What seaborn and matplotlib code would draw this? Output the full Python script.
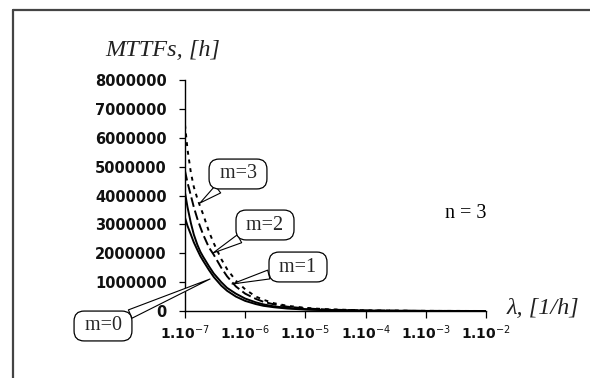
import numpy as np
import pandas as pd
import matplotlib
matplotlib.use("Agg")
import matplotlib.pyplot as plt
from matplotlib.lines import Line2D
import seaborn as sns

# ---- data ----
lam = [1e-7, 1.1e-7, 1.25e-7, 1.4e-7, 1.6e-7, 1.8e-7, 2e-7, 2.5e-7, 3e-7, 4e-7,
       5e-7, 7e-7, 1e-6, 1.5e-6, 2e-6, 3e-6, 5e-6, 1e-5, 2e-5, 1e-4, 1e-3, 1e-2]
mttf_m0 = [3.23, 2.95, 2.65, 2.38, 2.12, 1.90, 1.74, 1.42, 1.18, 0.88, 0.70, 0.50,
           0.35, 0.24, 0.18, 0.13, 0.085, 0.05, 0.03, 0.01, 0.002, 0.0003]
mttf_m1 = [4.10, 3.60, 3.05, 2.65, 2.30, 2.05, 1.88, 1.55, 1.30, 1.00, 0.80, 0.60,
           0.43, 0.30, 0.23, 0.16, 0.11, 0.065, 0.04, 0.012, 0.002, 0.0004]
mttf_m2 = [4.85, 4.45, 4.00, 3.60, 3.20, 2.90, 2.65, 2.20, 1.95, 1.50, 1.20, 0.85,
           0.60, 0.42, 0.32, 0.23, 0.15, 0.09, 0.055, 0.015, 0.003, 0.0005]
mttf_m3 = [6.45, 5.60, 4.80, 4.30, 3.90, 3.60, 3.35, 2.75, 2.35, 1.80, 1.45, 1.05,
           0.75, 0.50, 0.39, 0.27, 0.18, 0.11, 0.065, 0.02, 0.004, 0.0006]
series_names = ["m=0", "m=1", "m=2", "m=3"]
y_ticks = [0, 1000000, 2000000, 3000000, 4000000, 5000000, 6000000, 7000000, 8000000]
x_ticks = [1e-7, 1e-6, 1e-5, 1e-4, 1e-3, 1e-2]
x_ticklabels = ["1.10$^{-7}$", "1.10$^{-6}$", "1.10$^{-5}$", "1.10$^{-4}$",
                "1.10$^{-3}$", "1.10$^{-2}$"]

rows = []
for name, vals in zip(series_names, [mttf_m0, mttf_m1, mttf_m2, mttf_m3]):
    for l, v in zip(lam, vals):
        rows.append({"lam": l, "mttf": v * 1e6, "m": name})
df = pd.DataFrame(rows)

sns.set_theme(style="white")
plt.rcParams["font.family"] = ["DejaVu Sans"]

fig = plt.figure(figsize=(5.9, 3.78), dpi=100)
ax = fig.add_axes([185 / 590, 1 - 311 / 378, (486 - 185) / 590, (311 - 80) / 378])

dashes = {"m=0": "", "m=1": "", "m=2": (5, 2), "m=3": (2, 2.5)}
sns.lineplot(data=df, x="lam", y="mttf", hue="m", style="m",
             palette=["black"] * 4, dashes=dashes, linewidth=1.4,
             legend=False, ax=ax, sort=False)

ax.set_xscale("log")
ax.set_xlim(1e-7, 1e-2)
ax.set_ylim(0, 8000000)
ax.set_xticks(x_ticks)
ax.set_xticklabels(x_ticklabels)
ax.minorticks_off()
ax.set_yticks(y_ticks)
ax.set_yticklabels([str(v) for v in y_ticks])
ax.set_xlabel("")
ax.set_ylabel("")
for s in ["top", "right"]:
    ax.spines[s].set_visible(False)
for s in ["left", "bottom"]:
    ax.spines[s].set_color("black")
    ax.spines[s].set_linewidth(1.0)
ax.tick_params(axis="y", direction="out", length=4, width=0.9, color="black",
               pad=9, labelsize=10.5, left=True)
ax.tick_params(axis="x", direction="out", length=5, width=0.9, color="black",
               pad=4, labelsize=10, bottom=True)
for t in ax.get_yticklabels() + ax.get_xticklabels():
    t.set_fontweight("bold")
    t.set_color("#111111")
ax.patch.set_alpha(0)

serif = ["Liberation Serif", "DejaVu Serif"]
fig.text(163 / 590, 1 - 50 / 378, "MTTFs, [h]", family=serif, style="italic",
         fontsize=17.5, ha="center", va="center", color="#222222")
fig.text(543 / 590, 1 - 309 / 378, "λ, [1/h]", family=serif, style="italic",
         fontsize=17.5, ha="center", va="center", color="#222222")
fig.text(466 / 590, 1 - 213 / 378, "n = 3", family=serif,
         fontsize=14.5, ha="center", va="center", color="black")

# callouts
bbox = dict(boxstyle="round,pad=0.27,rounding_size=0.5", fc="white", ec="black", lw=0.9)
arrow = dict(arrowstyle="wedge,tail_width=0.45", fc="white", ec="black", lw=0.8,
             shrinkA=0, shrinkB=0)

callouts = [("m=3", (238, 174), (200, 203)),
            ("m=2", (265, 225), (213, 253)),
            ("m=1", (298, 267), (232, 284)),
            ("m=0", (103, 326), (210, 279))]
for label, (bx, by), (tx, ty) in callouts:
    ax.annotate(" " + label + " ", xy=(tx / 590, 1 - ty / 378), xycoords="figure fraction",
                xytext=(bx / 590, 1 - by / 378), textcoords="figure fraction",
                family=serif, fontsize=14.5, ha="center", va="center",
                bbox=bbox, arrowprops=arrow, annotation_clip=False)

# outer frame (left and top edges visible)
fig.add_artist(Line2D([13 / 590, 13 / 590], [0, 1 - 10 / 378],
                      transform=fig.transFigure, color="#444444", lw=1.6))
fig.add_artist(Line2D([13 / 590, 1], [1 - 10 / 378, 1 - 10 / 378],
                      transform=fig.transFigure, color="#444444", lw=1.6))

fig.savefig("out.png", dpi=100, facecolor="white")
